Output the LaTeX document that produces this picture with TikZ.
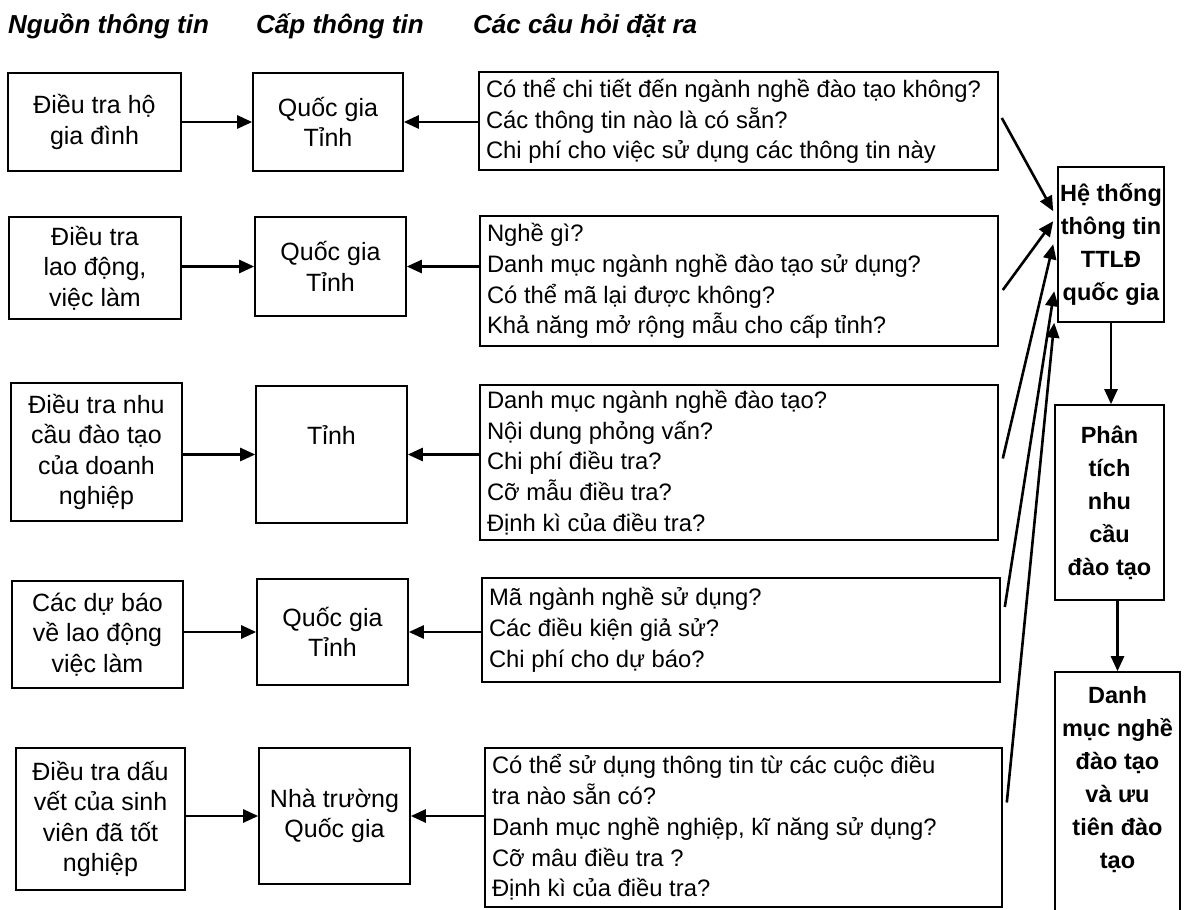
\documentclass[tikz,border=0pt]{standalone}
\usepackage{fontspec}
\setmainfont{Liberation Sans}
\usetikzlibrary{arrows.meta}
\begin{document}
\begin{tikzpicture}[x=1pt,y=-1pt,
 box/.style={draw, line width=1.6pt, inner sep=0pt, align=center, font=\fontsize{25}{30.5}\selectfont},
 qbox/.style={draw, line width=1.6pt, inner xsep=7pt, inner ysep=0pt, align=flush left, font=\fontsize{23.8}{30.8}\selectfont},
 bbox/.style={draw, line width=1.6pt, inner sep=0pt, align=center, font=\bfseries\fontsize{23.5}{33}\selectfont},
 btext/.style={inner sep=0pt, align=center, font=\bfseries\fontsize{23.5}{33}\selectfont},
 ptext/.style={inner sep=0pt, align=center, font=\fontsize{25}{30.5}\selectfont},
 arr/.style={line width=2.6pt, -{Triangle[length=15pt,width=13pt]}},
 hdr/.style={anchor=base west, inner sep=0pt, font=\bfseries\itshape\fontsize{26}{30}\selectfont}]
\useasboundingbox (0,0) rectangle (1186,910);
\clip (0,0) rectangle (1186,910);

% headers
\node[hdr] (h1) at (8,34) {Nguồn thông tin};
\node[hdr] (h2) at (256,34) {Cấp thông tin};
\node[hdr] (h3) at (473,34) {Các câu hỏi đặt ra};

% source boxes
\node[box, minimum width=173pt, minimum height=98pt] (s1) at (94.5,122) {Điều tra hộ\\gia đình};
\node[box, minimum width=172pt, minimum height=102pt] (s2) at (95,268) {Điều tra\\lao động,\\việc làm};
\node[box, minimum width=171pt, minimum height=138pt] (s3) at (96.5,452) {Điều tra nhu\\cầu đào tạo\\của doanh\\nghiệp};
\node[box, minimum width=171pt, minimum height=107pt] (s4) at (97.5,634.5) {Các dự báo\\về lao động\\việc làm};
\node[box, minimum width=169pt, minimum height=142pt] (s5) at (100.5,819) {Điều tra dấu\\vết của sinh\\viên đã tốt\\nghiệp};

% level boxes
\node[box, minimum width=150pt, minimum height=98pt] (l1) at (328,122) {Quốc gia\\Tỉnh};
\node[box, minimum width=151pt, minimum height=99pt] (l2) at (330.5,266.5) {Quốc gia\\Tỉnh};
\node[box, minimum width=151pt, minimum height=137pt] (l3) at (331.5,454.5) {};
\node[ptext] (l3t) at (331.5,435) {Tỉnh};
\node[box, minimum width=151pt, minimum height=106pt] (l4) at (332.5,632) {Quốc gia\\Tỉnh};
\node[box, minimum width=151pt, minimum height=136pt] (l5) at (334.5,816) {Nhà trường\\Quốc gia};

% question boxes
\node[qbox, text width=505pt, minimum height=98pt] (q1) at (738.5,121) {Có thể chi tiết đến ngành nghề đào tạo không?\\Các thông tin nào là có sẵn?\\Chi phí cho việc sử dụng các thông tin này};
\node[qbox, text width=504pt, minimum height=130pt] (q2) at (739,281) {Nghề gì?\\Danh mục ngành nghề đào tạo sử dụng?\\Có thể mã lại được không?\\Khả năng mở rộng mẫu cho cấp tỉnh?};
\node[qbox, text width=504pt, minimum height=155pt] (q3) at (739,462.5) {Danh mục ngành nghề đào tạo?\\Nội dung phỏng vấn?\\Chi phí điều tra?\\Cỡ mẫu điều tra?\\Định kì của điều tra?};
\node[qbox, text width=504pt, minimum height=104pt] (q4) at (741,630) {Mã ngành nghề sử dụng?\\Các điều kiện giả sử?\\Chi phí cho dự báo?};
\node[qbox, text width=503pt, minimum height=159pt] (q5) at (743.5,827.5) {Có thể sử dụng thông tin từ các cuộc điều\\tra nào sẵn có?\\Danh mục nghề nghiệp, kĩ năng sử dụng?\\Cỡ mâu điều tra ?\\Định kì của điều tra?};

% right column
\node[bbox, minimum width=106pt, minimum height=155pt] (htt) at (1111,244.5) {Hệ thống\\thông tin\\TTLĐ\\quốc gia};
\node[bbox, minimum width=109pt, minimum height=195pt] (pt) at (1109.5,502.5) {Phân\\tích\\nhu\\cầu\\đào tạo};
\node[bbox, minimum width=125pt, minimum height=268pt] (dm) at (1117.5,806) {};
\node[btext] (dmt) at (1117.5,779.5) {Danh\\mục nghề\\đào tạo\\và ưu\\tiên đào\\tạo};

% source -> level and questions -> level
\foreach \k in {1,...,5}{
  \draw[arr] (s\k.east |- l\k.west) -- (l\k.west);
  \draw[arr] (q\k.west |- l\k.east) -- (l\k.east);
}

% questions -> information system
\draw[arr] ([xshift=3pt,yshift=3pt]q1.east) -- ([xshift=-4pt,yshift=-45pt]htt.north west);
\draw[arr] ([xshift=4pt,yshift=-9pt]q2.east) -- ([xshift=-4pt,yshift=-55pt]htt.north west);
\draw[arr] ([xshift=4pt,yshift=4pt]q3.east) -- ([xshift=-4pt,yshift=-78pt]htt.north west);
\draw[arr] ([xshift=4pt,yshift=23pt]q4.east) -- ([xshift=-3pt,yshift=-125pt]htt.north west);
\draw[arr] ([xshift=4pt,yshift=25pt]q5.east) -- ([xshift=-3pt]htt.south west);

% vertical flow
\draw[arr] (htt.south) -- (htt.south |- pt.north);
\draw[arr] (pt.south -| dm.north) -- (dm.north);
\end{tikzpicture}
\end{document}
